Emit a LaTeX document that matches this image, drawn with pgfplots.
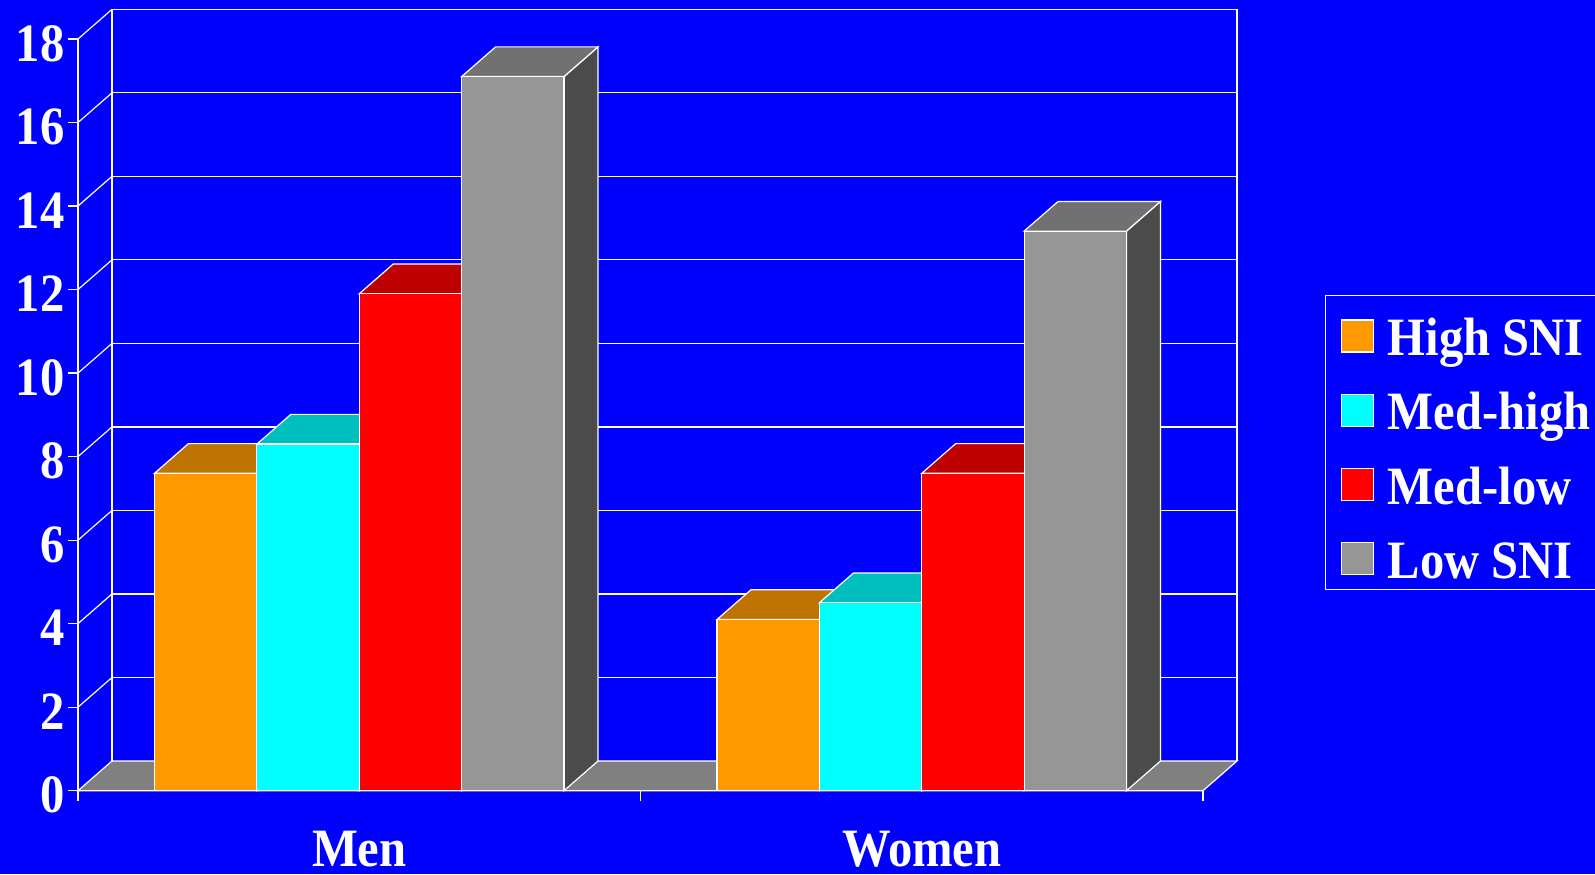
\documentclass[border=0pt]{standalone}
\usepackage{pgfplots}
\pgfplotsset{compat=1.18}
\usepackage{pgfplotstable}
\usepackage{fontspec}
\setmainfont{Liberation Serif}[FakeStretch=0.9]

\definecolor{bg}{HTML}{0000FF}
\definecolor{sniorange}{HTML}{FF9900}
\definecolor{sniorangetop}{HTML}{BF7300}
\definecolor{sniorangeside}{HTML}{805000}
\definecolor{snicyan}{HTML}{00FFFF}
\definecolor{snicyantop}{HTML}{00BFBF}
\definecolor{snicyanside}{HTML}{008080}
\definecolor{snired}{HTML}{FF0000}
\definecolor{sniredtop}{HTML}{BF0000}
\definecolor{sniredside}{HTML}{800000}
\definecolor{snigray}{HTML}{969696}
\definecolor{snigraytop}{HTML}{717171}
\definecolor{snigrayside}{HTML}{4B4B4B}
\definecolor{floorgray}{HTML}{808080}

% values per group (row 0 = Men, row 1 = Women)
\pgfplotstableread{
x high medhigh medlow low
0 7.6 8.3 11.9 17.1
1 4.1 4.5 7.6 13.4
}\sni

% depth of the 3-D extrusion in axis units
\newcommand\depthx{0.0604}
\newcommand\depthy{0.711}
\newcommand\chartfont{\fontsize{27}{30}\selectfont\bfseries}

% side face and top face of one bar, read from the table
\newcommand\barblock[5]{%
  \pgfplotstablegetelem{#1}{#2}\of\sni
  \pgfmathsetmacro\bbval{\pgfplotsretval}%
  \pgfmathsetmacro\bbxa{#1+(#3)-0.091}%
  \pgfmathsetmacro\bbxb{#1+(#3)+0.091}%
  \pgfmathsetmacro\bbxc{\bbxb+\depthx}%
  \pgfmathsetmacro\bbxd{\bbxa+\depthx}%
  \pgfmathsetmacro\bbyt{\bbval+\depthy}%
  \edef\bbdoplot{%
    \noexpand\addplot[forget plot, fill=#5, draw=white, line width=0.6pt]
      coordinates {(\bbxb,0) (\bbxc,\depthy) (\bbxc,\bbyt) (\bbxb,\bbval)} -- cycle;
    \noexpand\addplot[forget plot, fill=#4, draw=white, line width=0.6pt]
      coordinates {(\bbxa,\bbval) (\bbxb,\bbval) (\bbxc,\bbyt) (\bbxd,\bbyt)} -- cycle;
  }\bbdoplot
}
\newcommand\wline[4]{\addplot[forget plot, white, line width=0.6pt] coordinates {(#1,#2) (#3,#4)};}

\pgfplotsset{
  snibox/.style={legend image code/.code={%
    \draw[fill=#1, draw=white, line width=0.6pt] (0pt,-10.5pt) rectangle (16pt,5.5pt);}},
}

\begin{document}
\begin{tikzpicture}
\useasboundingbox (0,0) rectangle (797.5pt,437pt);
\clip (0,0) rectangle (797.5pt,437pt);
\fill[bg] (0,0) rectangle (797.5pt,437pt);
\begin{axis}[
  at={(39pt,41.65pt)}, anchor=south west,
  scale only axis, width=562.5pt, height=375.85pt,
  xmin=-0.5, xmax=1.5, ymin=0, ymax=18,
  clip=false,
  axis lines*=left,
  axis line style={white, line width=0.6pt},
  tick style={white, line width=0.6pt},
  tick align=outside,
  major tick length=5pt,
  xtick={-0.5,0.5,1.5}, xticklabels={},
  extra x ticks={0,1}, extra x tick labels={Men,Women},
  extra x tick style={major tick length=0pt, tick label style={inner ysep=0pt, yshift=-19.8pt}},
  ytick={0,2,...,18},
  yticklabel style={inner xsep=1.5pt, yshift=-2.2pt},
  tick label style={font=\chartfont, text=white},
  /pgf/number format/assume math mode=true,
  legend style={at={(1.1084,0.6598)}, anchor=north west, draw=white, line width=0.75pt,
    fill=bg, text=white, font=\chartfont, inner xsep=7.5pt, inner ysep=5.5pt,
    row sep=12.65pt, column sep=7pt,
    nodes={inner sep=0pt, text height=24.5pt, text depth=0pt}},
  legend cell align=left,
]
% floor
\addplot[forget plot, fill=floorgray, draw=white, line width=0.6pt]
  coordinates {(-0.5,0) (1.5,0) (1.5604,0.711) (-0.4396,0.711)} -- cycle;
% back wall outline
\addplot[forget plot, white, line width=0.6pt]
  coordinates {(-0.4396,0.711) (-0.4396,18.711) (1.5604,18.711) (1.5604,0.711)};
% back wall grid
\wline{-0.4396}{2.711}{1.5604}{2.711}
\wline{-0.4396}{4.711}{1.5604}{4.711}
\wline{-0.4396}{6.711}{1.5604}{6.711}
\wline{-0.4396}{8.711}{1.5604}{8.711}
\wline{-0.4396}{10.711}{1.5604}{10.711}
\wline{-0.4396}{12.711}{1.5604}{12.711}
\wline{-0.4396}{14.711}{1.5604}{14.711}
\wline{-0.4396}{16.711}{1.5604}{16.711}
% side wall grid
\wline{-0.5}{2}{-0.4396}{2.711}
\wline{-0.5}{4}{-0.4396}{4.711}
\wline{-0.5}{6}{-0.4396}{6.711}
\wline{-0.5}{8}{-0.4396}{8.711}
\wline{-0.5}{10}{-0.4396}{10.711}
\wline{-0.5}{12}{-0.4396}{12.711}
\wline{-0.5}{14}{-0.4396}{14.711}
\wline{-0.5}{16}{-0.4396}{16.711}
\wline{-0.5}{18}{-0.4396}{18.711}
% bar sides and tops
\barblock{0}{high}{-0.273}{sniorangetop}{sniorangeside}
\barblock{0}{medhigh}{-0.091}{snicyantop}{snicyanside}
\barblock{0}{medlow}{0.091}{sniredtop}{sniredside}
\barblock{0}{low}{0.273}{snigraytop}{snigrayside}
\barblock{1}{high}{-0.273}{sniorangetop}{sniorangeside}
\barblock{1}{medhigh}{-0.091}{snicyantop}{snicyanside}
\barblock{1}{medlow}{0.091}{sniredtop}{sniredside}
\barblock{1}{low}{0.273}{snigraytop}{snigrayside}
% bar fronts
\addplot[ybar, bar width=0.182, bar shift=-0.273, fill=sniorange, draw=white, line width=0.6pt, snibox=sniorange]
  table[x=x, y=high] {\sni};
\addlegendentry{High SNI}
\addplot[ybar, bar width=0.182, bar shift=-0.091, fill=snicyan, draw=white, line width=0.6pt, snibox=snicyan]
  table[x=x, y=medhigh] {\sni};
\addlegendentry{Med-high}
\addplot[ybar, bar width=0.182, bar shift=0.091, fill=snired, draw=white, line width=0.6pt, snibox=snired]
  table[x=x, y=medlow] {\sni};
\addlegendentry{Med-low}
\addplot[ybar, bar width=0.182, bar shift=0.273, fill=snigray, draw=white, line width=0.6pt, snibox=snigray]
  table[x=x, y=low] {\sni};
\addlegendentry{Low SNI}
\end{axis}
\end{tikzpicture}
\end{document}
